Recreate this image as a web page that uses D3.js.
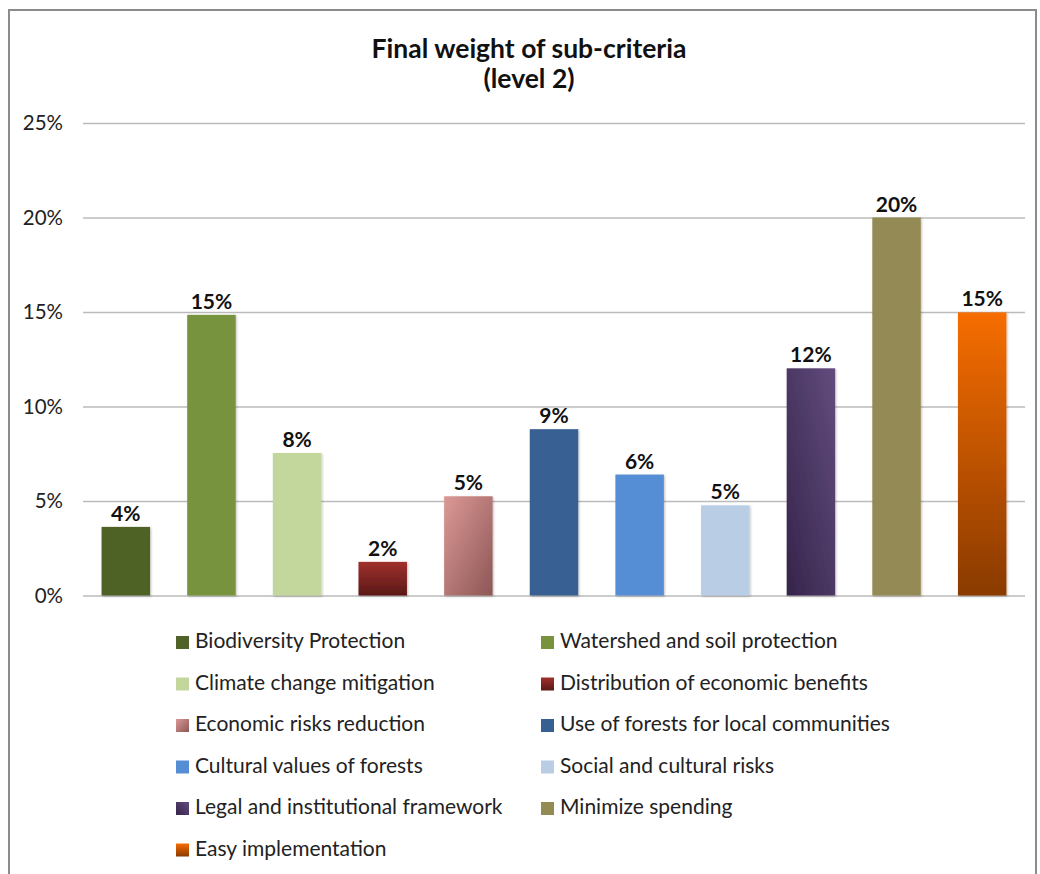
<!DOCTYPE html>
<html>
<head>
<meta charset="utf-8">
<script src="https://cdn.jsdelivr.net/npm/d3@7"></script>
<style>
  html, body { margin: 0; padding: 0; background: #fff; }
  svg { display: block; font-family: Lato, "Open Sans", sans-serif; }
</style>
</head>
<body>
<svg id="chart" width="1040" height="874"></svg>
<script>
const titleLines = ["Final weight of sub-criteria", "(level 2)"];
const categories = [
  "Biodiversity Protection",
  "Watershed and soil protection",
  "Climate change mitigation",
  "Distribution of economic benefits",
  "Economic risks reduction",
  "Use of forests for local communities",
  "Cultural values of forests",
  "Social and cultural risks",
  "Legal and institutional framework",
  "Minimize spending",
  "Easy implementation"
];
const values = [3.63, 14.85, 7.54, 1.78, 5.25, 8.80, 6.40, 4.77, 12.02, 20.0, 14.98];
const valueLabels = ["4%", "15%", "8%", "2%", "5%", "9%", "6%", "5%", "12%", "20%", "15%"];
const yTicks = [0, 5, 10, 15, 20, 25];
// each fill: [startColor, endColor, direction]
const fills = [
  ["#4F6228", "#4F6228", "v"],
  ["#77933C", "#77933C", "v"],
  ["#C3D69B", "#C3D69B", "v"],
  ["#A0302D", "#5A1816", "v"],
  ["#DC9896", "#8C5755", "d1"],
  ["#376092", "#376092", "v"],
  ["#558ED5", "#558ED5", "v"],
  ["#B9CDE5", "#B9CDE5", "v"],
  ["#624C7E", "#35244A", "d2"],
  ["#948A54", "#948A54", "v"],
  ["#F66D00", "#8A3A00", "v"]
];

const svg = d3.select("#chart");
const defs = svg.append("defs");

fills.forEach((f, i) => {
  let g = defs.append("linearGradient").attr("id", "g" + i);
  if (f[2] === "v") g.attr("x1", 0).attr("y1", 0).attr("x2", 0).attr("y2", 1);
  else if (f[2] === "d1") g.attr("x1", 0).attr("y1", 0).attr("x2", 1).attr("y2", 1);
  else g.attr("x1", 1).attr("y1", 0).attr("x2", 0).attr("y2", 1);
  g.append("stop").attr("offset", "0%").attr("stop-color", f[0]);
  g.append("stop").attr("offset", "100%").attr("stop-color", f[1]);
});

const shadow = defs.append("filter").attr("id", "sh").attr("x", "-20%").attr("y", "-20%").attr("width", "140%").attr("height", "140%");
shadow.append("feDropShadow").attr("dx", 1).attr("dy", 1).attr("stdDeviation", 1.2).attr("flood-color", "#000").attr("flood-opacity", 0.25);

// outer border
svg.append("rect")
  .attr("x", 9).attr("y", 10).attr("width", 1027).attr("height", 880)
  .attr("fill", "#fff").attr("stroke", "#8C8C8C").attr("stroke-width", 2);

const plotLeft = 83, plotRight = 1025, plotTop = 123, plotBottom = 595.5;

const x = d3.scaleBand().domain(categories).range([plotLeft, plotRight]).paddingInner(0.434).paddingOuter(0.217);
const y = d3.scaleLinear().domain([0, 25]).range([plotBottom, plotTop]);

// title
svg.append("text")
  .attr("text-anchor", "middle")
  .attr("font-weight", "bold").attr("font-size", 26.5).attr("fill", "#111")
  .selectAll("tspan").data(titleLines).join("tspan")
  .attr("x", 529).attr("y", (d, i) => 58 + i * 29.5)
  .text(d => d);

// y axis with grid
const yAxis = d3.axisLeft(y).tickValues(yTicks).tickFormat(d => d + "%")
  .tickSize(-(plotRight - plotLeft)).tickPadding(20);
const ga = svg.append("g").attr("transform", `translate(${plotLeft},0)`).call(yAxis);
ga.select(".domain").remove();
ga.selectAll(".tick line").attr("stroke", "#BBBBBB").attr("stroke-width", 1.6);
ga.selectAll(".tick text").attr("font-size", 20.5).attr("fill", "#222").attr("font-family", "Lato, sans-serif");

// bars
svg.append("g").selectAll("rect").data(categories).join("rect")
  .attr("x", d => x(d))
  .attr("y", (d, i) => y(values[i]))
  .attr("width", x.bandwidth())
  .attr("height", (d, i) => y(0) - y(values[i]))
  .attr("fill", (d, i) => `url(#g${i})`)
  .attr("filter", "url(#sh)");

// value labels
svg.append("g").selectAll("text").data(categories).join("text")
  .attr("x", d => x(d) + x.bandwidth() / 2)
  .attr("y", (d, i) => y(values[i]) - 6)
  .attr("text-anchor", "middle")
  .attr("font-weight", "bold").attr("font-size", 21).attr("fill", "#111")
  .text((d, i) => valueLabels[i]);

// legend
const lg = svg.append("g").selectAll("g").data(categories).join("g")
  .attr("transform", (d, i) => `translate(${i % 2 === 0 ? 176 : 541},${648 + Math.floor(i / 2) * 41.5})`);
lg.append("rect").attr("x", 0).attr("y", -12).attr("width", 13).attr("height", 13)
  .attr("fill", (d, i) => `url(#g${i})`);
lg.append("text").attr("x", 19).attr("y", 0)
  .attr("font-size", 21).attr("fill", "#222")
  .text(d => d);
</script>
</body>
</html>
